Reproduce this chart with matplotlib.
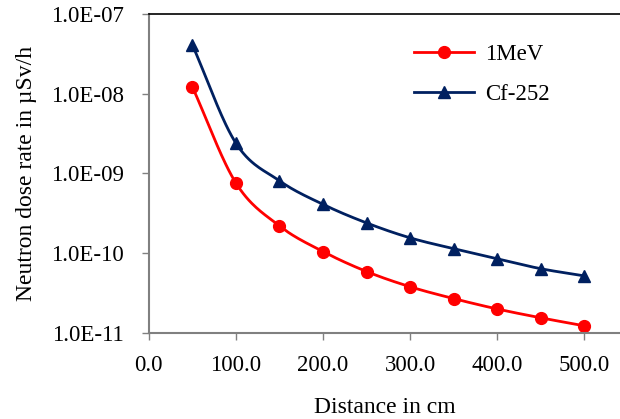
import numpy as np
import matplotlib
matplotlib.use("Agg")
import matplotlib.pyplot as plt
from matplotlib.ticker import FixedLocator, FuncFormatter, NullLocator

plt.rcParams['font.family'] = ['Liberation Serif', 'DejaVu Serif']

distance = [50, 100, 150, 200, 250, 300, 350, 400, 450, 500]
dose_1mev = [1.22e-8, 7.6e-10, 2.2e-10, 1.05e-10, 5.9e-11, 3.8e-11, 2.7e-11, 2.0e-11, 1.55e-11, 1.23e-11]
dose_cf252 = [4.1e-8, 2.4e-9, 8.1e-10, 4.1e-10, 2.4e-10, 1.56e-10, 1.14e-10, 8.5e-11, 6.4e-11, 5.2e-11]
x_ticks = [0, 100, 200, 300, 400, 500]
y_ticks = [1e-11, 1e-10, 1e-9, 1e-8, 1e-7]
y_tick_labels = ["1.0E-11", "1.0E-10", "1.0E-09", "1.0E-08", "1.0E-07"]


def smooth(xs, ys, n=30):
    x = np.asarray(xs, float)
    y = np.log10(np.asarray(ys, float))
    px = np.concatenate([[2 * x[0] - x[1]], x, [2 * x[-1] - x[-2]]])
    py = np.concatenate([[2 * y[0] - y[1]], y, [2 * y[-1] - y[-2]]])
    ox, oy = [], []
    for i in range(1, len(px) - 2):
        t = np.linspace(0, 1, n, endpoint=False)
        for arr, out in ((px, ox), (py, oy)):
            p0, p1, p2, p3 = arr[i - 1], arr[i], arr[i + 1], arr[i + 2]
            out.extend(0.5 * ((2 * p1) + (-p0 + p2) * t + (2 * p0 - 5 * p1 + 4 * p2 - p3) * t ** 2
                              + (-p0 + 3 * p1 - 3 * p2 + p3) * t ** 3))
    ox.append(x[-1]); oy.append(y[-1])
    return np.array(ox), 10 ** np.array(oy)


fig = plt.figure(figsize=(6.2, 4.19), dpi=100)
ax = fig.add_axes([0.240, 0.2053, 0.760, 0.7613])

red = '#FF0000'
navy = '#002060'

sx, sy = smooth(distance, dose_1mev)
ax.plot(sx, sy, color=red, lw=2)
ax.plot(distance, dose_1mev, 'o', color=red, ms=8.5)
ax.plot([], [], '-o', color=red, lw=2, ms=8.5, label='1MeV')

sx, sy = smooth(distance, dose_cf252)
ax.plot(sx, sy, color=navy, lw=2)
ax.plot(distance, dose_cf252, '^', color=navy, ms=8.5)
ax.plot([], [], '-^', color=navy, lw=2, ms=8.5, label='Cf-252')

ax.set_yscale('log')
ax.set_ylim(1e-11, 1e-7)
ax.set_xlim(0, 541)
ax.yaxis.set_major_locator(FixedLocator(y_ticks))
ax.yaxis.set_minor_locator(NullLocator())
ax.set_yticklabels(y_tick_labels)
ax.set_xticks(x_ticks)
ax.xaxis.set_major_formatter(FuncFormatter(lambda v, p: f"{v:.1f}"))

for s in ['left', 'bottom']:
    ax.spines[s].set_color('#808080')
    ax.spines[s].set_linewidth(1.5)
ax.spines['top'].set_color('black')
ax.spines['top'].set_linewidth(1.2)
ax.spines['right'].set_visible(False)
ax.tick_params(axis='both', which='major', direction='out', length=5, width=1,
               color='#808080', labelsize=16.5)
ax.tick_params(axis='x', pad=11)
ax.tick_params(axis='y', pad=13)

ax.set_xlabel('Distance in cm', fontsize=17, labelpad=15)
ax.set_ylabel('Neutron dose rate in µSv/h', fontsize=17, labelpad=10)

ax.legend(loc='upper left', bbox_to_anchor=(0.52, 0.97), frameon=False, fontsize=16.5,
          handlelength=2.6, handletextpad=0.5, labelspacing=0.8)

fig.savefig('out.png', dpi=100)
